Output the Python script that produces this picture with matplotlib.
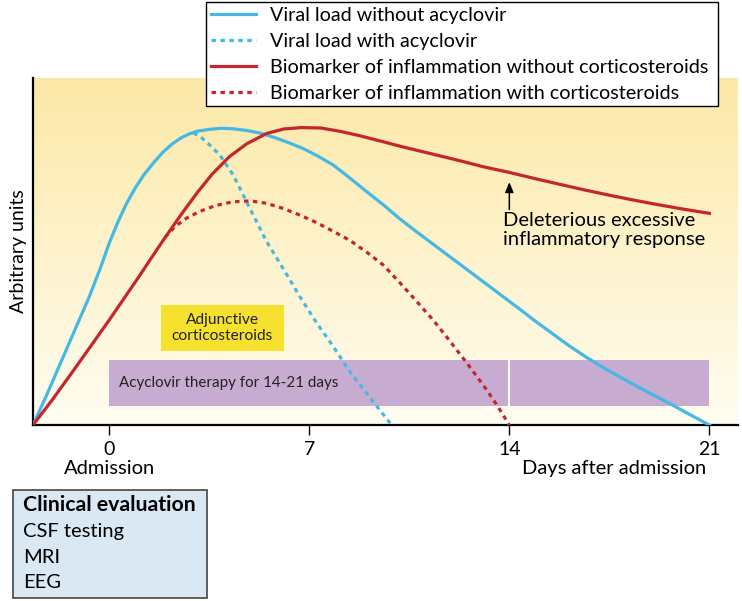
import numpy as np
import matplotlib.pyplot as plt
from matplotlib.colors import LinearSegmentedColormap

plt.rcParams['font.family'] = ['Lato', 'DejaVu Sans']

# days after admission / arbitrary units
viral_days = [-2.67, -2.2, -1.7, -1.2, -0.7, -0.3, 0.0, 0.3, 0.6, 0.9, 1.2, 1.55, 1.9,
              2.2, 2.5, 2.8, 3.1, 3.5, 3.9, 4.3, 4.8, 5.3, 5.8, 6.3, 6.8, 7.3, 7.84,
              8.4, 9.0, 9.6, 10.17, 10.8, 11.4, 12.0, 12.6, 13.2, 13.7, 14.3, 14.9,
              15.5, 16.1, 16.7, 17.3, 17.9, 18.5, 19.1, 19.7, 20.3, 21.0]
viral_vals = [0, 8.5, 18, 27.5, 37, 45.5, 52.5, 58.5, 63.8, 68.2, 72, 75.6, 78.8,
              81, 82.7, 83.9, 84.7, 85.2, 85.5, 85.4, 84.9, 84.1, 82.8, 81.3, 79.6, 77.5, 74.9,
              71.3, 67.3, 63.4, 59.4, 55.4, 51.7, 48, 44.3, 40.6, 37.5, 33.8, 30,
              26.4, 22.8, 19.5, 16.5, 13.7, 11, 8.4, 5.8, 3.1, 0]

viral_acv_days = [2.94, 3.2, 3.5, 3.87, 4.34, 4.92, 5.51, 6.09, 6.67, 7.25, 7.84,
                  8.4, 9.01, 9.45, 9.88]
viral_acv_vals = [84.2, 83, 80.8, 77.8, 72, 62.4, 52.8, 45, 37, 29.5, 22.6,
                  15.6, 9.1, 4.5, 0]

infl_days = [-2.67, -2.0, -1.3, -0.6, 0.0, 0.5, 1.0, 1.5, 1.95, 2.5, 3.1, 3.6, 4.2,
             4.8, 5.5, 6.1, 6.7, 7.4, 8.1, 8.8, 9.6, 10.2, 10.8, 11.5, 12.3, 13.1,
             14.0, 14.9, 15.8, 16.6, 17.4, 18.3, 19.2, 20.1, 21.0]
infl_vals = [0, 7.2, 15.2, 23.3, 30.3, 36.3, 42.3, 48.5, 54, 60.5, 67.2, 72.3, 77.3,
             81, 84, 85.3, 85.7, 85.6, 84.6, 83.3, 81.6, 80.3, 79.1, 77.7, 76.1, 74.4,
             72.8, 71, 69.3, 67.8, 66.4, 64.9, 63.5, 62.2, 61]

infl_cs_days = [1.95, 2.3, 2.7, 3.18, 3.7, 4.3, 4.92, 5.5, 6.09, 6.67, 7.26, 7.84,
                8.42, 9.01, 9.59, 10.17, 10.76, 11.34, 11.9, 12.52, 13.21, 13.6, 14.0]
infl_cs_vals = [54.1, 57.2, 59.6, 61.6, 63.2, 64.3, 64.6, 63.9, 62.4, 60.5, 58.3, 55.8,
                53.2, 49.8, 46.1, 41, 35.6, 30.2, 24.4, 17.8, 10.1, 5.3, 0]

tick_days = [0, 7, 14, 21]
therapy_span = [0, 21]
therapy_split = 14
steroid_span = [1.81, 6.11]

legend_labels = ['Viral load without acyclovir',
                 'Viral load with acyclovir',
                 'Biomarker of inflammation without corticosteroids',
                 'Biomarker of inflammation with corticosteroids']
clinical_items = ['CSF testing', 'MRI', 'EEG']

blue = '#45b8e3'
red = '#c4262e'

fig = plt.figure(figsize=(7.42, 6.01), dpi=100)
ax = fig.add_axes([0.0445, 0.2928, 0.950, 0.5774])
xmin, xmax = -2.67, 22.0
ax.set_xlim(xmin, xmax)
ax.set_ylim(0, 100)

# background gradient
bg = LinearSegmentedColormap.from_list('bg', ['#fffdf1', '#fce8a6'])
grad = np.linspace(0, 1, 256).reshape(-1, 1)
ax.imshow(grad, cmap=bg, origin='lower', extent=[xmin, xmax, 0, 100],
          aspect='auto', zorder=0)

# treatment boxes
ax.fill_between(therapy_span, 5.5, 18.7, color='#c8abd0', lw=0, zorder=1)
ax.plot([therapy_split, therapy_split], [5.5, 18.7], color='white', lw=1.5, zorder=1)
ax.text(0.35, 12.1, 'Acyclovir therapy for 14-21 days', fontsize=10.9,
        va='center', ha='left', color='#222222', zorder=2)
ax.fill_between(steroid_span, 21.3, 34.6, color='#f6e12e', lw=0, zorder=1)
ax.text(np.mean(steroid_span), 28, 'Adjunctive\ncorticosteroids', fontsize=11.2,
        va='center', ha='center', color='#222222', linespacing=1.2, zorder=2)

l1, = ax.plot(viral_days, viral_vals, color=blue, lw=2.3, zorder=4)
l2, = ax.plot(viral_acv_days, viral_acv_vals, color=blue, lw=2.3,
              linestyle=(0, (1.4, 1.4)), zorder=3)
l3, = ax.plot(infl_days, infl_vals, color=red, lw=2.3, zorder=4)
l4, = ax.plot(infl_cs_days, infl_cs_vals, color=red, lw=2.3,
              linestyle=(0, (1.4, 1.4)), zorder=3)

ax.annotate('', xy=(14, 70.8), xytext=(14, 61.3),
            arrowprops=dict(arrowstyle='-|>,head_width=0.25,head_length=0.6',
                            color='black', lw=1.1))
ax.text(13.78, 61.3, 'Deleterious excessive\ninflammatory response', fontsize=14.5,
        va='top', ha='left', linespacing=1.1)

for side in ['top', 'right']:
    ax.spines[side].set_visible(False)
for side in ['left', 'bottom']:
    ax.spines[side].set_linewidth(1.6)
ax.set_yticks([])
ax.set_xticks(tick_days)
ax.tick_params(axis='x', direction='out', length=7.5, width=1.0, pad=4, labelsize=14)
ax.set_ylabel('Arbitrary units', fontsize=14, labelpad=4)

xt = ax.get_xaxis_transform()
ax.text(0, -0.125, 'Admission', transform=xt, ha='center', va='center', fontsize=14.5)
ax.text(17.67, -0.125, 'Days after admission', transform=xt, ha='center', va='center',
        fontsize=14.5)

leg = fig.legend([l1, l2, l3, l4], legend_labels, loc='upper left',
                 bbox_to_anchor=(0.2776, 0.9967, 0.69, 0), mode='expand',
                 fontsize=14.2, handlelength=2.3, handletextpad=0.7,
                 labelspacing=0.45, borderpad=0.25, borderaxespad=0,
                 fancybox=False, edgecolor='black', framealpha=1)
leg.get_frame().set_linewidth(1.0)

# clinical evaluation box
fig.patches.append(plt.Rectangle((13 / 742, 1 - 598 / 601), 194 / 742, 108 / 601,
                                 transform=fig.transFigure, facecolor='#dae8f3',
                                 edgecolor='#444444', lw=1.2))
fig.text(23 / 742, 1 - 505 / 601, 'Clinical evaluation', fontsize=15.3,
         fontweight='bold', va='center')
for i, item in enumerate(clinical_items):
    fig.text(23 / 742, 1 - (532 + 25.5 * i) / 601, item, fontsize=14.5, va='center')

fig.savefig('out.png', dpi=100)
